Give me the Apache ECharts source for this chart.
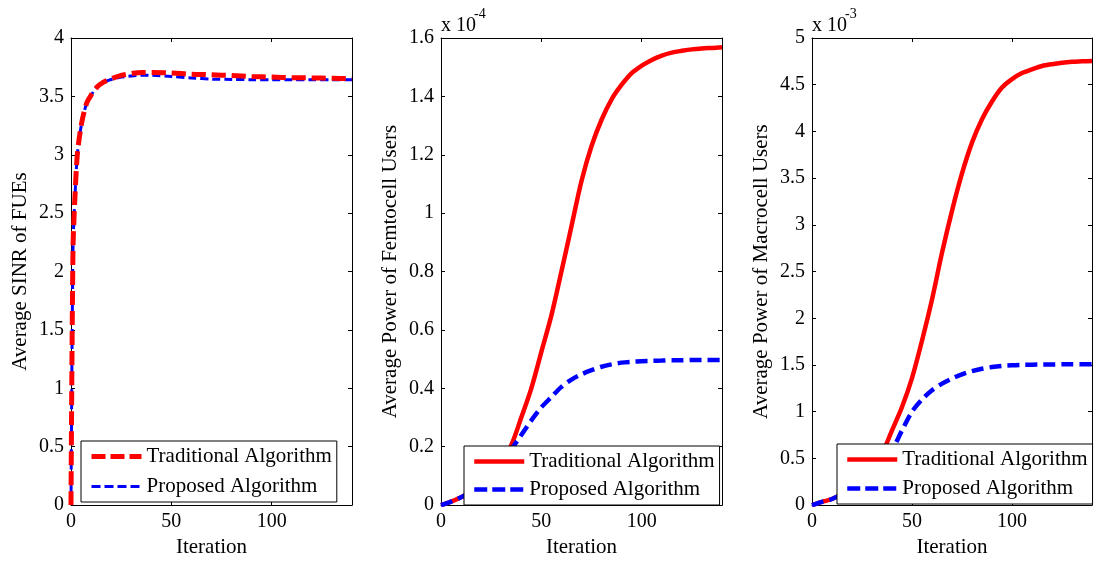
<!DOCTYPE html>
<html>
<head>
<meta charset="utf-8">
<script src="https://cdn.jsdelivr.net/npm/echarts@6/dist/echarts.min.js"></script>
<style>
  html, body { margin: 0; padding: 0; background: #fff; }
  #chart { width: 1101px; height: 563px; }
</style>
</head>
<body>
<div id="chart"></div>
<script>
// Iteration grid for the SINR panel (dense near the start where it rises quickly)
const sinrIterations = [0, 1, 2, 3, 4, 5, 6, 8, 10, 13, 16, 20, 25, 30, 35, 40, 50, 60, 70, 80, 90, 100, 110, 120, 130, 140];
const sinrTraditional = [0, 2.2, 2.65, 2.97, 3.13, 3.24, 3.33, 3.45, 3.51, 3.58, 3.62, 3.65, 3.68, 3.695, 3.705, 3.705, 3.70, 3.69, 3.685, 3.678, 3.67, 3.665, 3.66, 3.658, 3.655, 3.652];
const sinrProposed    = [0, 2.2, 2.65, 2.97, 3.13, 3.24, 3.33, 3.45, 3.51, 3.58, 3.62, 3.645, 3.665, 3.675, 3.68, 3.68, 3.67, 3.658, 3.648, 3.645, 3.643, 3.642, 3.642, 3.642, 3.642, 3.642];

// Iteration grid for the two power panels
const powerIterations = [0, 5, 10, 15, 20, 25, 30, 35, 40, 45, 50, 55, 60, 65, 70, 75, 80, 85, 90, 95, 100, 105, 110, 115, 120, 125, 130, 135, 140];
// Femtocell power, in units of 1e-4
const femtoTraditional = [0, 0.012, 0.027, 0.045, 0.07, 0.10, 0.145, 0.205, 0.30, 0.40, 0.525, 0.65, 0.80, 0.955, 1.11, 1.23, 1.32, 1.39, 1.44, 1.48, 1.505, 1.525, 1.54, 1.55, 1.556, 1.561, 1.564, 1.566, 1.568];
const femtoProposed    = [0, 0.012, 0.027, 0.045, 0.07, 0.10, 0.14, 0.19, 0.24, 0.29, 0.335, 0.37, 0.405, 0.43, 0.448, 0.462, 0.474, 0.482, 0.488, 0.491, 0.493, 0.494, 0.495, 0.496, 0.496, 0.497, 0.497, 0.497, 0.497];
// Macrocell power, in units of 1e-3
const macroTraditional = [0, 0.035, 0.065, 0.12, 0.19, 0.28, 0.40, 0.55, 0.80, 1.05, 1.36, 1.76, 2.2, 2.7, 3.15, 3.55, 3.88, 4.13, 4.32, 4.47, 4.56, 4.625, 4.665, 4.70, 4.72, 4.735, 4.745, 4.75, 4.755];
const macroProposed    = [0, 0.035, 0.065, 0.12, 0.19, 0.28, 0.39, 0.48, 0.59, 0.80, 1.00, 1.13, 1.23, 1.30, 1.355, 1.40, 1.435, 1.46, 1.478, 1.49, 1.497, 1.501, 1.503, 1.505, 1.506, 1.507, 1.508, 1.508, 1.508];

const seriesNames = ['Traditional Algorithm', 'Proposed Algorithm'];
const yTitles = ['Average SINR of FUEs', 'Average Power of Femtocell Users', 'Average Power of Macrocell Users'];
const xTitle = 'Iteration';
const yRanges = [[0, 4, 0.5], [0, 1.6, 0.2], [0, 5, 0.5]];
const exponents = [null, '-4', '-3'];

const FONT = 'Liberation Serif';
const BLACK = '#000';
const RED = '#ff0000';
const BLUE = '#0000ff';

const zip = (xs, ys) => xs.map((x, i) => [x, ys[i]]);

const grids = [
  { left: 71,  top: 38, width: 281, height: 470 },
  { left: 441, top: 38, width: 281, height: 470 },
  { left: 812, top: 38, width: 280, height: 470 }
];

const xAxes = [];
const yAxes = [];
grids.forEach((g, i) => {
  const tick = { show: true, inside: true, length: 4, lineStyle: { color: BLACK, width: 1 } };
  const line = { show: true, onZero: false, lineStyle: { color: BLACK, width: 1 } };
  xAxes.push({
    type: 'value', gridIndex: i, min: 0, max: 140, interval: 50, position: 'bottom',
    axisLine: line, axisTick: tick, splitLine: { show: false },
    axisLabel: { color: BLACK, fontFamily: FONT, fontSize: 20, margin: 7, showMaxLabel: false },
    name: xTitle, nameLocation: 'middle', nameGap: 30,
    nameTextStyle: { color: BLACK, fontFamily: FONT, fontSize: 21 }
  });
  xAxes.push({
    type: 'value', gridIndex: i, min: 0, max: 140, interval: 50, position: 'top',
    axisLine: line, axisTick: tick, splitLine: { show: false }, axisLabel: { show: false }
  });
  const [ymin, ymax, yint] = yRanges[i];
  yAxes.push({
    type: 'value', gridIndex: i, min: ymin, max: ymax, interval: yint, position: 'left',
    axisLine: line, axisTick: tick, splitLine: { show: false },
    axisLabel: { color: BLACK, fontFamily: FONT, fontSize: 20, margin: 7 },
    name: yTitles[i], nameLocation: 'middle', nameGap: 40, nameRotate: 90,
    nameTextStyle: { color: BLACK, fontFamily: FONT, fontSize: 21 }
  });
  yAxes.push({
    type: 'value', gridIndex: i, min: ymin, max: ymax, interval: yint, position: 'right',
    axisLine: line, axisTick: tick, splitLine: { show: false }, axisLabel: { show: false }
  });
});

const SMOOTH = 0.3;
const series = [
  // SINR panel: both curves dashed
  { name: seriesNames[1], type: 'line', xAxisIndex: 0, yAxisIndex: 0, symbol: 'none', smooth: SMOOTH,
    data: zip(sinrIterations, sinrProposed), lineStyle: { color: BLUE, width: 3, type: [8, 4] }, itemStyle: { color: BLUE } },
  { name: seriesNames[0], type: 'line', xAxisIndex: 0, yAxisIndex: 0, symbol: 'none', smooth: SMOOTH,
    data: zip(sinrIterations, sinrTraditional), lineStyle: { color: RED, width: 5, type: [14, 6] }, itemStyle: { color: RED } },
  // Femtocell power panel
  { name: seriesNames[0], type: 'line', xAxisIndex: 2, yAxisIndex: 2, symbol: 'none', smooth: SMOOTH,
    data: zip(powerIterations, femtoTraditional), lineStyle: { color: RED, width: 4.5, type: 'solid' }, itemStyle: { color: RED } },
  { name: seriesNames[1], type: 'line', xAxisIndex: 2, yAxisIndex: 2, symbol: 'none', smooth: SMOOTH,
    data: zip(powerIterations, femtoProposed), lineStyle: { color: BLUE, width: 4.5, type: [12, 6] }, itemStyle: { color: BLUE } },
  // Macrocell power panel
  { name: seriesNames[0], type: 'line', xAxisIndex: 4, yAxisIndex: 4, symbol: 'none', smooth: SMOOTH,
    data: zip(powerIterations, macroTraditional), lineStyle: { color: RED, width: 4.5, type: 'solid' }, itemStyle: { color: RED } },
  { name: seriesNames[1], type: 'line', xAxisIndex: 4, yAxisIndex: 4, symbol: 'none', smooth: SMOOTH,
    data: zip(powerIterations, macroProposed), lineStyle: { color: BLUE, width: 4.5, type: [12, 6] }, itemStyle: { color: BLUE } }
];

function makeLegend(left, top, gap, padV, styles) {
  return {
    orient: 'vertical', left: left, top: top, selectedMode: false,
    backgroundColor: '#fff', borderColor: BLACK, borderWidth: 1,
    padding: [padV, 5, padV, 8], itemGap: gap, itemWidth: 50, itemHeight: 16,
    textStyle: { color: BLACK, fontFamily: FONT, fontSize: 21, lineHeight: 20 },
    itemStyle: { opacity: 0 },
    data: [
      { name: seriesNames[0], lineStyle: styles[0] },
      { name: seriesNames[1], lineStyle: styles[1] }
    ]
  };
}

const legends = [
  makeLegend(81, 441, 9, 5, [
    { color: RED, width: 5, type: [14, 5] },
    { color: BLUE, width: 3, type: [9, 4] }
  ]),
  makeLegend(464, 446, 7, 5, [
    { color: RED, width: 4.5, type: 'solid' },
    { color: BLUE, width: 4.5, type: [13, 5] }
  ]),
  makeLegend(837, 444, 8, 5, [
    { color: RED, width: 4.5, type: 'solid' },
    { color: BLUE, width: 4.5, type: [13, 5] }
  ])
];

// "x 10^n" scale markers above the power panels
const graphic = [];
grids.forEach((g, i) => {
  if (!exponents[i]) return;
  graphic.push({ type: 'text', left: g.left, top: 16,
    style: { text: 'x 10', fill: BLACK, font: '20px "' + FONT + '"' } });
  graphic.push({ type: 'text', left: g.left + 33, top: 7,
    style: { text: exponents[i], fill: BLACK, font: '14px "' + FONT + '"' } });
});

const chart = echarts.init(document.getElementById('chart'), null, { renderer: 'canvas' });
chart.setOption({
  backgroundColor: '#fff',
  animation: false,
  grid: grids,
  xAxis: xAxes,
  yAxis: yAxes,
  legend: legends,
  graphic: graphic,
  series: series
});
</script>
</body>
</html>
